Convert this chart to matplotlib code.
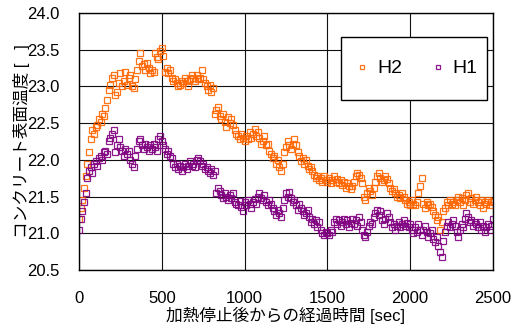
import numpy as np
import matplotlib
matplotlib.use('Agg')
import matplotlib.pyplot as plt
from matplotlib.patches import Rectangle

plt.rcParams['font.family'] = ['Liberation Sans', 'Noto Sans CJK JP', 'DejaVu Sans']

# 経過時間 [sec], 10 sec step
t = np.arange(0, 2501, 10)

h2 = [21.20, 21.35, 21.45, 21.62, 21.78, 21.95, 22.10, 22.28, 22.40, 22.35,
      22.45, 22.48, 22.55, 22.52, 22.62, 22.60, 22.70, 22.82, 22.95, 23.02,
      23.12, 23.15, 22.88, 22.92, 23.05, 23.18, 23.00, 23.08, 23.20, 23.02,
      23.12, 23.15, 23.00, 22.98, 23.10, 23.22, 23.35, 23.45, 23.28, 23.30,
      23.22, 23.32, 23.25, 23.18, 23.22, 23.20, 23.45, 23.40, 23.38, 23.48,
      23.52, 23.42, 23.20, 23.25, 23.18, 23.22, 23.12, 23.08, 23.10, 23.05,
      23.00, 23.02, 23.08, 23.05, 23.12, 23.08, 23.00, 23.10, 23.15, 23.12,
      23.08, 23.15, 23.10, 23.12, 23.22, 23.10, 23.05, 23.00, 22.95, 23.02,
      22.92, 22.98, 22.62, 22.68, 22.72, 22.60, 22.55, 22.62, 22.52, 22.45,
      22.58, 22.50, 22.55, 22.48, 22.40, 22.35, 22.32, 22.28, 22.35, 22.30,
      22.25, 22.32, 22.28, 22.38, 22.30, 22.35, 22.42, 22.33, 22.38, 22.30,
      22.22, 22.25, 22.32, 22.20, 22.22, 22.12, 22.08, 22.02, 22.05, 21.95,
      22.00, 21.90, 21.85, 21.95, 22.10, 22.18, 22.25, 22.20, 22.15, 22.22,
      22.28, 22.20, 22.10, 22.05, 21.98, 22.02, 21.95, 22.00, 21.92, 21.88,
      21.90, 21.85, 21.80, 21.75, 21.78, 21.72, 21.75, 21.70, 21.78, 21.73,
      21.70, 21.75, 21.68, 21.72, 21.78, 21.70, 21.74, 21.68, 21.72, 21.66,
      21.70, 21.62, 21.68, 21.65, 21.60, 21.64, 21.70, 21.78, 21.82, 21.80,
      21.75, 21.68, 21.50, 21.45, 21.55, 21.62, 21.58, 21.52, 21.62, 21.70,
      21.78, 21.82, 21.75, 21.70, 21.72, 21.78, 21.74, 21.68, 21.62, 21.58,
      21.60, 21.55, 21.50, 21.52, 21.48, 21.55, 21.50, 21.45, 21.40, 21.42,
      21.38, 21.45, 21.40, 21.38, 21.42, 21.55, 21.65, 21.75, 21.40, 21.35,
      21.42, 21.38, 21.40, 21.36, 21.30, 21.25, 21.18, 21.22, 21.05, 21.15,
      21.30, 21.35, 21.42, 21.38, 21.45, 21.40, 21.43, 21.38, 21.45, 21.50,
      21.42, 21.48, 21.38, 21.45, 21.52, 21.55, 21.42, 21.48, 21.40, 21.45,
      21.50, 21.42, 21.38, 21.45, 21.35, 21.42, 21.40, 21.45, 21.38, 21.42,
      21.44]

h1 = [21.04, 21.20, 21.30, 21.42, 21.55, 21.75, 21.85, 21.90, 21.82, 21.95,
      21.98, 21.92, 22.02, 22.05, 22.00, 22.10, 22.12, 22.08, 22.25, 22.30,
      22.35, 22.40, 22.10, 22.20, 22.28, 22.18, 22.12, 22.05, 22.15, 22.08,
      22.12, 22.00, 21.95, 21.90, 22.05, 22.15, 22.25, 22.28, 22.20, 22.15,
      22.22, 22.18, 22.12, 22.20, 22.15, 22.22, 22.18, 22.12, 22.28, 22.32,
      22.25, 22.20, 22.15, 22.08, 22.12, 22.05, 22.02, 21.95, 21.90, 21.95,
      21.88, 21.92, 21.85, 21.90, 21.95, 21.88, 21.92, 21.98, 21.92, 21.95,
      21.90, 22.00, 22.02, 21.98, 21.92, 21.95, 21.88, 21.90, 21.85, 21.82,
      21.88, 21.80, 21.85, 21.55, 21.62, 21.58, 21.52, 21.48, 21.55, 21.50,
      21.45, 21.52, 21.48, 21.55, 21.42, 21.40, 21.38, 21.44, 21.36, 21.30,
      21.42, 21.38, 21.45, 21.40, 21.35, 21.42, 21.46, 21.40, 21.50, 21.55,
      21.48, 21.45, 21.52, 21.42, 21.38, 21.45, 21.40, 21.35, 21.30, 21.25,
      21.32, 21.28, 21.22, 21.35, 21.45, 21.55, 21.50, 21.56, 21.48, 21.42,
      21.45, 21.38, 21.32, 21.40, 21.35, 21.30, 21.25, 21.28, 21.32, 21.22,
      21.15, 21.20, 21.12, 21.18, 21.08, 21.15, 21.05, 21.00, 20.98, 21.02,
      21.00, 20.98, 21.05, 21.02, 21.15, 21.20, 21.12, 21.18, 21.10, 21.15,
      21.20, 21.12, 21.18, 21.08, 21.14, 21.20, 21.12, 21.18, 21.10, 21.22,
      21.15, 21.05, 20.98, 20.95, 21.02, 21.10, 21.15, 21.12, 21.22, 21.28,
      21.32, 21.25, 21.30, 21.18, 21.12, 21.20, 21.28, 21.22, 21.15, 21.08,
      21.12, 21.05, 21.10, 21.15, 21.08, 21.12, 21.18, 21.10, 21.14, 21.08,
      21.12, 21.05, 21.00, 21.08, 21.02, 21.12, 21.05, 20.98, 21.05, 21.10,
      21.02, 20.95, 21.00, 21.05, 20.92, 20.88, 20.95, 20.82, 20.75, 20.68,
      20.90, 21.02, 21.10, 21.15, 21.08, 21.12, 21.18, 21.10, 21.02, 20.95,
      21.05, 21.12, 21.08, 21.20, 21.28, 21.22, 21.15, 21.18, 21.10, 21.15,
      21.12, 21.08, 21.15, 21.05, 21.10, 21.02, 21.08, 21.12, 21.05, 21.10,
      21.20]

fig = plt.figure(figsize=(5.18, 3.26), dpi=100)
ax = fig.add_axes([0.1525, 0.172, 0.7992, 0.788])

ax.plot(t, h2, 's', ms=4.0, mfc='none', mec='#FF6600', mew=0.9, alpha=0.9, label='H2')
ax.plot(t, h1, 's', ms=4.0, mfc='none', mec='#800080', mew=0.9, alpha=0.9, label='H1')

ax.set_xlim(0, 2500)
ax.set_ylim(20.5, 24.0)
ax.set_xticks([0, 500, 1000, 1500, 2000, 2500])
ax.set_yticks(np.arange(20.5, 24.01, 0.5))
ax.set_yticklabels(['%.1f' % v for v in np.arange(20.5, 24.01, 0.5)])
ax.tick_params(length=0, labelsize=12)
ax.tick_params(axis='y', pad=14)
ax.tick_params(axis='x', pad=15)
ax.grid(True, color='#111111', lw=0.8)
ax.set_axisbelow(True)
for s in ax.spines.values():
    s.set_color('black')
    s.set_linewidth(1.0)

ax.set_xlabel('加熱停止後からの経過時間 [sec]', fontsize=12, labelpad=1)
ax.set_ylabel('コンクリート表面温度 [   ]', fontsize=12, labelpad=-2)

# legend box
ax.add_patch(Rectangle((0.633, 0.661), 0.353, 0.246, transform=ax.transAxes,
                       facecolor='white', edgecolor='black', lw=1.0, zorder=5))
leg = ax.legend(loc='center', bbox_to_anchor=(0.8095, 0.784), ncol=2, fontsize=14,
                markerscale=0.8, handlelength=1.2, handletextpad=0.15,
                columnspacing=1.25, frameon=False)
leg.set_zorder(6)

fig.savefig('out.png', dpi=100)
